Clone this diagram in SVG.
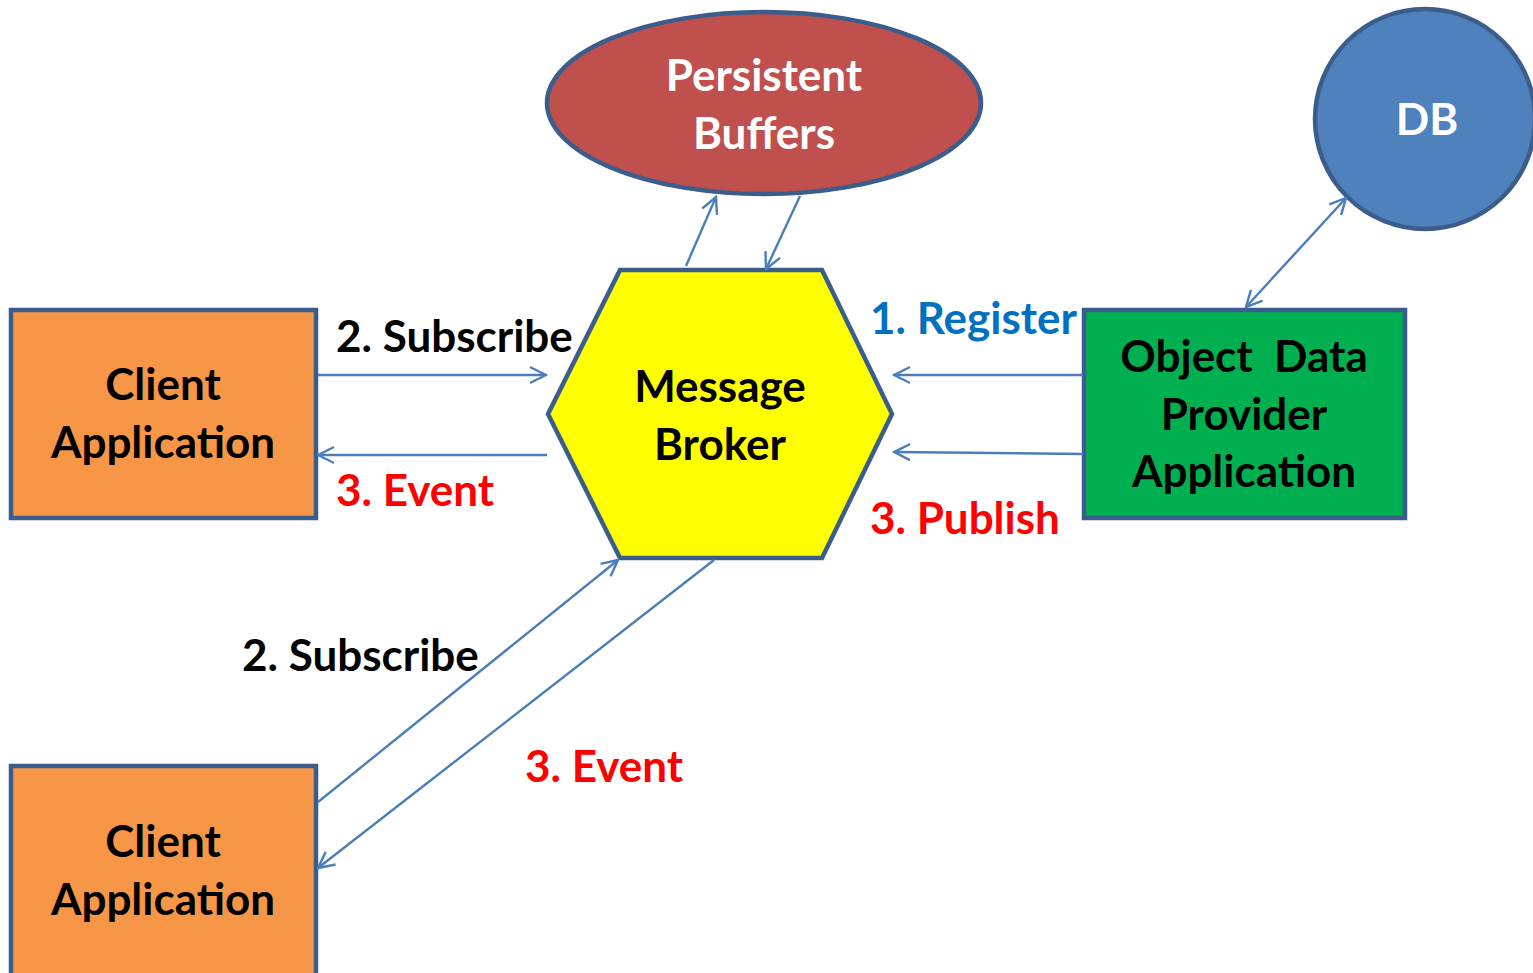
<svg xmlns="http://www.w3.org/2000/svg" width="1533" height="973" viewBox="0 0 1533 973">
<style>
text{font-family:Lato,"Liberation Sans",sans-serif;font-weight:bold;font-size:44px;}
.n{text-anchor:middle;}
.w{fill:#ffffff;}
.k{fill:#000000;}
.r{fill:#ff0000;}
.b{fill:#0070c0;}
.shape{stroke:#3b5d8c;stroke-width:4.5;}
.c{stroke:#4a7ebb;stroke-width:2.4;fill:none;}
</style>
<defs>
<marker id="ah" viewBox="0 0 20 20" refX="18" refY="10" markerWidth="20" markerHeight="20" markerUnits="userSpaceOnUse" orient="auto-start-reverse">
<path d="M2,2 L18,10 L2,18" fill="none" stroke="#4a7ebb" stroke-width="2.4"/>
</marker>
</defs>
<rect width="1533" height="973" fill="#ffffff"/>
<g id="persistent-buffers">
<ellipse class="shape" cx="764" cy="103" rx="217" ry="91" fill="#c0504d"/>
<text class="n w" x="764" y="91">Persistent</text>
<text class="n w" x="764" y="149">Buffers</text>
</g>
<g id="db">
<circle class="shape" cx="1425" cy="119" r="110" fill="#4f81bd"/>
<text class="n w" x="1427" y="135">DB</text>
</g>
<g id="message-broker">
<polygon class="shape" points="620,270 822,270 892,414 822,558 620,558 548,414" fill="#ffff00"/>
<text class="n k" x="720" y="402">Message</text>
<text class="n k" x="720" y="460">Broker</text>
</g>
<g id="client-app-1">
<rect class="shape" x="11" y="310" width="305" height="208" fill="#f79646"/>
<text class="n k" x="163" y="400">Client</text>
<text class="n k" x="163" y="458">Application</text>
</g>
<g id="client-app-2">
<rect class="shape" x="11" y="766" width="305" height="220" fill="#f79646"/>
<text class="n k" x="163" y="857">Client</text>
<text class="n k" x="163" y="915">Application</text>
</g>
<g id="object-data-provider">
<rect class="shape" x="1084" y="310" width="321" height="208" fill="#00b050"/>
<text class="n k" x="1244" y="372" xml:space="preserve">Object  Data</text>
<text class="n k" x="1244" y="430">Provider</text>
<text class="n k" x="1244" y="487">Application</text>
</g>
<g id="connectors">
<line class="c" x1="318" y1="375" x2="546" y2="375" marker-end="url(#ah)"/>
<line class="c" x1="547" y1="455" x2="318" y2="455" marker-end="url(#ah)"/>
<line class="c" x1="1083" y1="375" x2="894" y2="375" marker-end="url(#ah)"/>
<line class="c" x1="1083" y1="454" x2="894" y2="452" marker-end="url(#ah)"/>
<line class="c" x1="686" y1="266" x2="716" y2="197" marker-end="url(#ah)"/>
<line class="c" x1="800" y1="196" x2="766" y2="269" marker-end="url(#ah)"/>
<line class="c" x1="1246" y1="307" x2="1346" y2="198" marker-start="url(#ah)" marker-end="url(#ah)"/>
<line class="c" x1="318" y1="802" x2="618" y2="560" marker-end="url(#ah)"/>
<line class="c" x1="714" y1="560" x2="318" y2="868" marker-end="url(#ah)"/>
</g>
<g id="labels">
<text class="k" x="336" y="352">2. Subscribe</text>
<text class="r" x="336" y="506">3. Event</text>
<text class="b" x="870" y="334">1. Register</text>
<text class="r" x="870" y="534">3. Publish</text>
<text class="k" x="242" y="671">2. Subscribe</text>
<text class="r" x="525" y="782">3. Event</text>
</g>
</svg>
